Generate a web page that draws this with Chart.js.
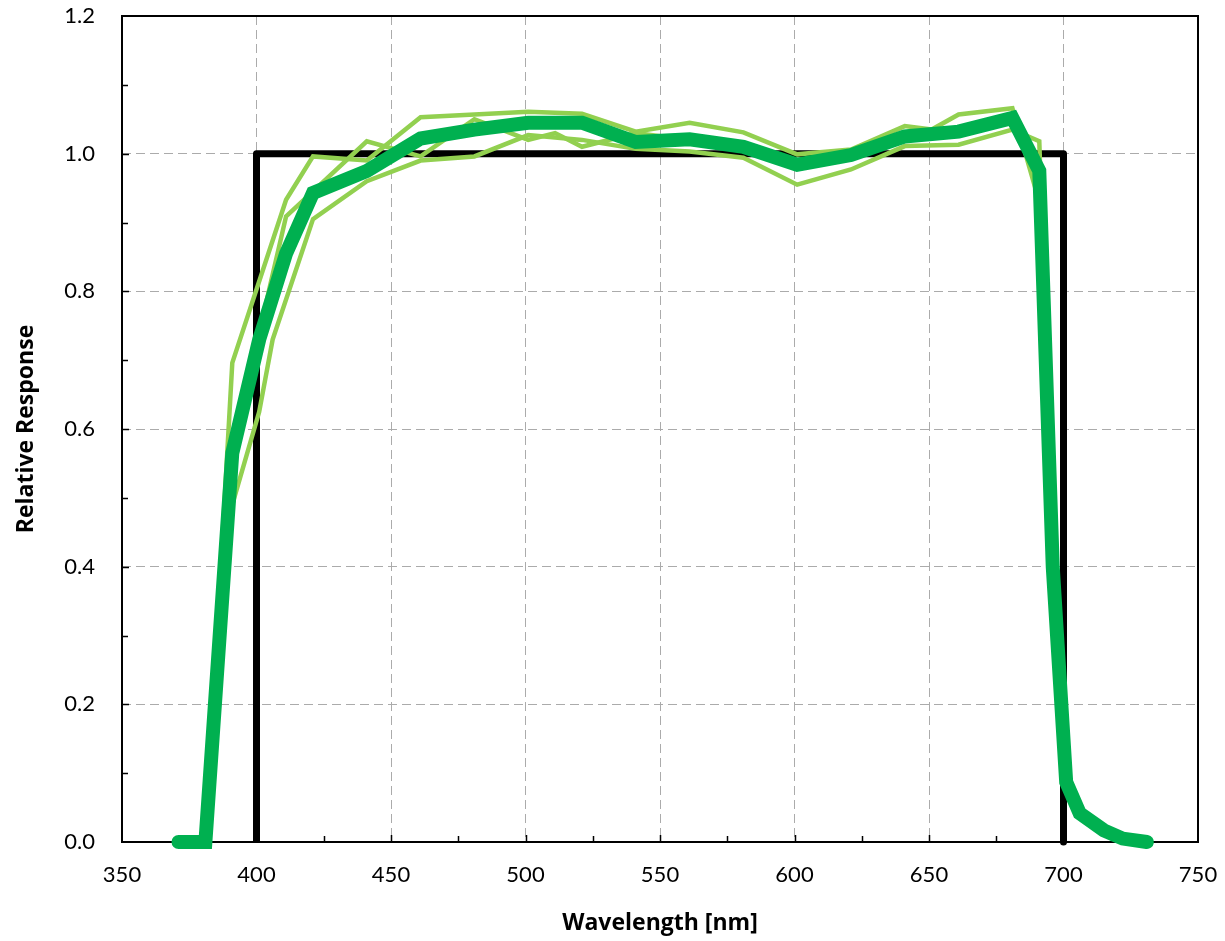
<!DOCTYPE html>
<html>
<head>
<meta charset="utf-8">
<script src="https://cdn.jsdelivr.net/npm/chart.js@4/dist/chart.umd.min.js"></script>
<style>
    html, body { margin: 0; padding: 0; background: #ffffff; }
    #wrap { width: 1225px; height: 941px; }
</style>
</head>
<body>
<div id="wrap"><canvas id="myChart" width="1225" height="941"></canvas></div>
<script>

// ideal filter (black box)
var boxX = [400, 400, 700, 700];
var boxY = [0, 1, 1, 0];

// thick average curve
var meanX = [371, 381, 391, 401, 411, 421, 441, 461, 481, 501, 521, 541, 561, 581, 601, 621, 641, 661, 681, 691, 696, 701, 706, 715, 722, 731];
var meanY = [0, 0, 0.565, 0.73, 0.855, 0.943, 0.975, 1.022, 1.035, 1.045, 1.045, 1.017, 1.021, 1.01, 0.984, 0.998, 1.025, 1.032, 1.052, 0.975, 0.40, 0.087, 0.042, 0.017, 0.005, 0];

// thin single curves
var upperX = [371, 381, 391, 411, 421, 441, 461, 481, 501, 521, 541, 561, 581, 601, 621, 641, 651, 661, 681, 691, 696, 701, 706, 715, 722, 731];
var upperY = [0, 0, 0.696, 0.933, 0.996, 0.99, 1.053, 1.057, 1.061, 1.058, 1.032, 1.045, 1.031, 0.999, 1.006, 1.04, 1.035, 1.057, 1.066, 0.93, 0.40, 0.09, 0.042, 0.017, 0.005, 0];

var midX = [371, 381, 391, 401, 411, 441, 461, 481, 501, 511, 521, 541, 561, 581, 601, 621, 641, 661, 681, 691, 696, 701, 706, 715, 722, 731];
var midY = [0, 0, 0.57, 0.74, 0.909, 1.018, 0.996, 1.05, 1.02, 1.03, 1.01, 1.03, 1.02, 1.01, 0.985, 0.995, 1.025, 1.03, 1.05, 0.975, 0.40, 0.09, 0.042, 0.017, 0.005, 0];

var lowerX = [371, 381, 391, 401, 406, 421, 441, 461, 481, 501, 521, 541, 561, 581, 601, 621, 641, 661, 681, 691, 696, 701, 706, 715, 722, 731];
var lowerY = [0, 0, 0.49, 0.625, 0.73, 0.905, 0.96, 0.99, 0.996, 1.027, 1.02, 1.007, 1.003, 0.994, 0.955, 0.977, 1.011, 1.013, 1.035, 1.018, 0.42, 0.09, 0.042, 0.017, 0.005, 0];

var xTicks = [350, 400, 450, 500, 550, 600, 650, 700, 750];
var yTicks = [0, 0.2, 0.4, 0.6, 0.8, 1.0, 1.2];

var FONT = "Lato, 'Open Sans', sans-serif";
var TITLE_FONT = "'Open Sans', Lato, sans-serif";

function toPoints(xs, ys) {
    var pts = [];
    for (var i = 0; i < xs.length; i++) {
        pts.push({ x: xs[i], y: ys[i] });
    }
    return pts;
}

function thinLine(xs, ys) {
    return {
        data: toPoints(xs, ys),
        borderColor: '#92D050',
        borderWidth: 4.5,
        borderJoinStyle: 'miter',
        showLine: true,
        pointRadius: 0,
        clip: false,
        order: 2
    };
}

// kill the automatic label overflow padding so the plot box sits where we want it
function noPad(scale) {
    scale.paddingTop = 0;
    scale.paddingBottom = 0;
    scale.paddingLeft = 0;
    scale.paddingRight = 0;
}

// frame + inside ticks (major and minor), drawn under the curves
var frameTicks = {
    id: 'frameTicks',
    beforeDatasetsDraw: function (chart) {
        var ctx = chart.ctx;
        var a = chart.chartArea;
        var sx = chart.scales.x;
        var sy = chart.scales.y;
        var v, p;

        ctx.save();
        ctx.strokeStyle = '#000000';
        ctx.lineWidth = 1.5;
        ctx.beginPath();
        for (v = 375; v < 750; v += 25) {
            p = Math.round(sx.getPixelForValue(v)) + 0.5;
            ctx.moveTo(p, a.bottom);
            ctx.lineTo(p, a.bottom - (v % 50 === 0 ? 7 : 6));
        }
        for (v = 1; v < 12; v++) {
            p = Math.round(sy.getPixelForValue(v / 10)) + 0.5;
            ctx.moveTo(a.left, p);
            ctx.lineTo(a.left + (v % 2 === 0 ? 7 : 6), p);
        }
        ctx.stroke();

        ctx.lineWidth = 2;
        ctx.strokeRect(a.left, a.top, a.right - a.left, a.bottom - a.top);
        ctx.restore();
    }
};

var ctx = document.getElementById('myChart').getContext('2d');
var chart = new Chart(ctx, {
    type: 'scatter',
    data: {
        datasets: [
            {
                data: toPoints(meanX, meanY),
                borderColor: '#00B050',
                borderWidth: 14,
                borderCapStyle: 'round',
                borderJoinStyle: 'miter',
                showLine: true,
                pointRadius: 0,
                clip: false,
                order: 1
            },
            thinLine(upperX, upperY),
            thinLine(midX, midY),
            thinLine(lowerX, lowerY),
            {
                data: toPoints(boxX, boxY),
                borderColor: '#000000',
                borderWidth: 7,
                borderJoinStyle: 'round',
                showLine: true,
                pointRadius: 0,
                clip: false,
                order: 3
            }
        ]
    },
    options: {
        responsive: false,
        animation: false,
        layout: { padding: { top: 16, right: 27, left: 0, bottom: 0 } },
        plugins: {
            legend: { display: false },
            tooltip: { enabled: false }
        },
        scales: {
            x: {
                type: 'linear',
                min: 350,
                max: 750,
                afterFit: function (scale) { scale.height = 99; noPad(scale); },
                afterBuildTicks: function (scale) {
                    scale.ticks = xTicks.map(function (t) { return { value: t }; });
                },
                ticks: {
                    color: '#000000',
                    padding: 20,
                    font: { family: FONT, size: 22 }
                },
                grid: { color: '#ababab', lineWidth: 1, drawTicks: false },
                border: { display: false, dash: [9, 5] },
                title: {
                    display: true,
                    text: 'Wavelength [nm]',
                    color: '#000000',
                    font: { family: TITLE_FONT, size: 23, weight: 'bold' },
                    padding: { top: 0, bottom: 4 }
                }
            },
            y: {
                type: 'linear',
                min: 0,
                max: 1.2,
                afterFit: function (scale) { scale.width = 122; noPad(scale); },
                afterBuildTicks: function (scale) {
                    scale.ticks = yTicks.map(function (t) { return { value: t }; });
                },
                ticks: {
                    color: '#000000',
                    padding: 27,
                    font: { family: FONT, size: 22 },
                    callback: function (value) { return value.toFixed(1); }
                },
                grid: { color: '#ababab', lineWidth: 1, drawTicks: false },
                border: { display: false, dash: [9, 5] },
                title: {
                    display: true,
                    text: 'Relative Response',
                    color: '#000000',
                    font: { family: TITLE_FONT, size: 23, weight: 'bold' },
                    padding: { top: 13, bottom: 0 }
                }
            }
        }
    },
    plugins: [frameTicks]
});

</script>
</body>
</html>
